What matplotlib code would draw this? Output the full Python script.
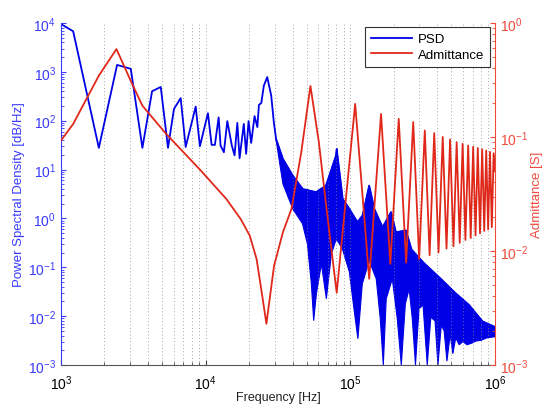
import numpy as np
import matplotlib
matplotlib.use("Agg")
import matplotlib.pyplot as plt
from matplotlib.ticker import LogLocator, NullFormatter

plt.rcParams['font.family'] = ['Liberation Sans', 'DejaVu Sans']

# PSD, low-frequency zigzag (Hz, dB/Hz)
psd_f = [1000, 1215, 1828, 2444, 3040, 3656, 4265, 4897, 5494, 6043, 6723, 7280,
         8537, 9127, 10370, 11000, 11590, 12300, 12680, 13370, 14120, 15170, 15850,
         16560, 17160, 18360, 19050, 19800, 20650, 21780, 22770, 23350, 24250, 25250,
         26650, 28400, 29600, 30700]
psd_v = [9500, 6760, 27.8, 1384, 1150, 27.8, 400, 490, 27.8, 174, 290, 29,
         194, 30, 142, 32, 32, 117, 31, 22.6, 98, 31, 19.5,
         90, 17, 86, 21, 98, 35, 124, 74, 210, 230, 520,
         780, 326, 93, 42]

# PSD dense region: upper and lower envelope
up_f = [30700, 34200, 40000, 46900, 58000, 67900, 79600, 80500, 88600, 98400,
        112000, 121500, 135000, 146400, 167000, 191000, 206700, 242000, 265000,
        320000, 430000, 530000, 660000, 820000, 1000000]
up_v = [42, 16.6, 7.5, 4.0, 3.45, 4.7, 19.3, 26.5, 2.5, 1.57,
        0.84, 1.15, 4.7, 1.57, 0.66, 1.35, 0.52, 0.57, 0.23,
        0.125, 0.055, 0.03, 0.017, 0.0078, 0.006]
lo_f = [30700, 34200, 40000, 46700, 50500, 53800, 55800, 58300, 63100, 68300,
        74000, 80000, 88100, 98400, 106600, 112800, 121000, 135000, 151000, 161000,
        169000, 177000, 195000, 211000, 225000, 240000, 255000, 268000, 282000, 298000,
        318000, 340000, 360000, 385000, 403000, 425000, 445000, 465000, 490000, 511000,
        535000, 565000, 600000, 640000, 690000, 740000, 800000, 880000, 1000000]
lo_v = [40, 5.1, 1.57, 0.78, 0.30, 0.046, 0.0081, 0.029, 0.118, 0.0227,
        0.19, 0.38, 0.24, 0.081, 0.0123, 0.00345, 0.046, 0.136, 0.058, 0.0089,
        0.001, 0.0227, 0.058, 0.0089, 0.001, 0.018, 0.036, 0.0089, 0.001, 0.014,
        0.017, 0.001, 0.0095, 0.008, 0.001, 0.0065, 0.005, 0.0012, 0.0042, 0.0017,
        0.0036, 0.0026, 0.003, 0.0026, 0.0028, 0.0031, 0.0032, 0.0036, 0.0038]

# Admittance (Hz, S)
adm_f = [1000, 1215, 1828, 2420, 3040, 3656, 5350, 9100, 13900, 17500, 20200,
         22500, 24800, 26300, 29700, 34200, 39200, 45800, 53000, 60600, 68500,
         80500, 108000, 135000, 163000, 189000, 216000, 243000, 272000, 299000,
         327000, 353000, 380000, 407000, 435000, 462000, 489000, 516000, 543000,
         570000, 597000, 624000, 652000, 679000, 706000, 733000, 760000, 787000,
         815000, 842000, 869000, 896000, 923000, 950000, 978000, 1000000]
adm_v = [0.093, 0.13, 0.345, 0.59, 0.31, 0.188, 0.106, 0.052, 0.0286, 0.019, 0.0136,
         0.0085, 0.0038, 0.0023, 0.0074, 0.0146, 0.0234, 0.0734, 0.28, 0.09, 0.0234,
         0.0043, 0.195, 0.0057, 0.159, 0.0077, 0.144, 0.0079, 0.135, 0.0085,
         0.114, 0.0092, 0.108, 0.0097, 0.1, 0.0105, 0.095, 0.011, 0.09,
         0.0118, 0.087, 0.0125, 0.084, 0.013, 0.082, 0.0137, 0.08, 0.0143,
         0.078, 0.015, 0.076, 0.0155, 0.074, 0.0162, 0.072, 0.05]

blue = '#0000e6'
red = '#e0281a'
lblue = '#3a3aff'
lred = '#f04a3a'

fig = plt.figure(figsize=(5.44, 4.06), dpi=100)
ax = fig.add_axes([0.112, 0.0985, 0.798, 0.8425])
ax.set_xscale('log')
ax.set_yscale('log')

ax.plot(psd_f, psd_v, color=blue, lw=1.3)
ax.fill(np.concatenate([up_f, lo_f[::-1]]), np.concatenate([up_v, lo_v[::-1]]),
        color=blue, lw=0.8)
ax.plot(up_f, up_v, color=blue, lw=1.3)
ax.set_xlim(1e3, 1e6)
ax.set_ylim(1e-3, 1e4)

ax.xaxis.set_minor_locator(LogLocator(base=10, subs=np.arange(2, 10), numticks=20))
ax.xaxis.set_minor_formatter(NullFormatter())
ax.yaxis.set_major_locator(LogLocator(base=10, numticks=20))
ax.yaxis.set_minor_locator(LogLocator(base=10, subs=np.arange(2, 10), numticks=40))
ax.yaxis.set_minor_formatter(NullFormatter())
ax.grid(True, axis='x', which='both', color='#888888', ls=(0, (1, 3)), lw=0.6)

ax.tick_params(axis='both', which='both', direction='in', labelsize=10)
ax.tick_params(axis='x', pad=6)
ax.tick_params(axis='y', colors=lblue, which='both')
ax.tick_params(axis='x', colors='#444444', labelcolor='black', which='both')
ax.spines['top'].set_visible(False)
ax.spines['right'].set_visible(False)
ax.spines['left'].set_color(lblue)
ax.spines['bottom'].set_color('#555555')
ax.set_xlabel('Frequency [Hz]', fontsize=9, color='#222222', labelpad=-1)
ax.set_ylabel('Power Spectral Density [dB/Hz]', fontsize=9.5, color=lblue, labelpad=2)

ax2 = ax.twinx()
ax2.set_yscale('log')
ax2.plot(adm_f, adm_v, color=red, lw=1.3)
ax2.set_ylim(1e-3, 1)
ax2.set_xlim(1e3, 1e6)
ax2.yaxis.set_minor_locator(LogLocator(base=10, subs=np.arange(2, 10), numticks=40))
ax2.yaxis.set_minor_formatter(NullFormatter())
ax2.tick_params(axis='y', which='both', direction='in', colors=lred, labelsize=10)
for s in ['top', 'left', 'bottom']:
    ax2.spines[s].set_visible(False)
ax2.spines['right'].set_color(lred)
ax2.set_ylabel('Admittance [S]', fontsize=9.5, color=lred, labelpad=2)

h1 = plt.Line2D([], [], color=blue, lw=1.3)
h2 = plt.Line2D([], [], color=red, lw=1.3)
leg = ax2.legend([h1, h2], ['PSD', 'Admittance'], loc='upper right',
                 bbox_to_anchor=(0.988, 0.988), borderaxespad=0, fancybox=False,
                 framealpha=1, edgecolor='#333333', fontsize=9.5, handlelength=3.1,
                 borderpad=0.45, labelspacing=0.25, handletextpad=0.4)
leg.get_frame().set_linewidth(0.8)

fig.savefig('out.png', dpi=100)
